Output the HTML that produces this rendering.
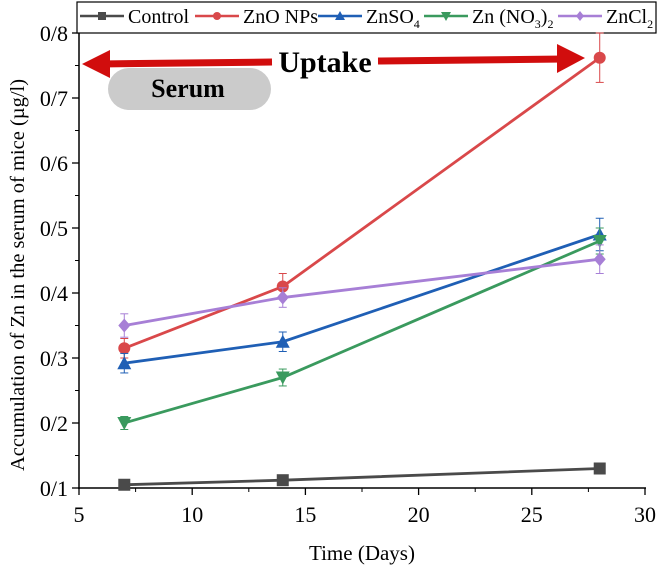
<!DOCTYPE html>
<html><head><meta charset="utf-8"><style>
body{margin:0;background:#fff;}
svg text{font-family:"Liberation Serif",serif;}
</style></head><body>
<svg id="c" width="665" height="571">
<g id="axes"></g><g id="marks"></g>
</svg>
<script>
const days=[7,14,28];
const names=["Control","ZnO NPs","ZnSO4","Zn (NO3)2","ZnCl2"];
const control=[0.105,0.112,0.13];
const zno=[0.315,0.41,0.762];
const znso4=[0.292,0.325,0.49];
const znno3=[0.2,0.27,0.48];
const zncl2=[0.35,0.393,0.452];
const errControl=[0.004,0.004,0.004];
const errZno=[0.015,0.02,0.038];
const errZnso4=[0.015,0.015,0.025];
const errZnno3=[0.01,0.013,0.02];
const errZncl2=[0.018,0.015,0.022];
const xTicks=[5,10,15,20,25,30];
const yTicks=[0.1,0.2,0.3,0.4,0.5,0.6,0.7,0.8];
const yTickLabels=["0/1","0/2","0/3","0/4","0/5","0/6","0/7","0/8"];

const NS="http://www.w3.org/2000/svg";
const X=v=>79+(v-5)*(645-79)/25;
const Y=v=>488-(v-0.1)*(488-33)/0.7;
function mk(p,t,a){const e=document.createElementNS(NS,t);for(const k in a)e.setAttribute(k,a[k]);p.appendChild(e);return e;}
const ax=document.getElementById('axes'),mg=document.getElementById('marks');
let e;
e=mk(ax,'line',{x1:79,y1:33,x2:79,y2:489,stroke:'#000','stroke-width':1.5});

e=mk(ax,'line',{x1:78,y1:488,x2:646,y2:488,stroke:'#000','stroke-width':1.5});

xTicks.forEach((t,i)=>{
 mk(ax,'line',{x1:X(t),y1:488,x2:X(t),y2:495,stroke:'#000','stroke-width':1.3});
 if(i<xTicks.length-1)mk(ax,'line',{x1:X(t+2.5),y1:488,x2:X(t+2.5),y2:492,stroke:'#000','stroke-width':1});
 e=mk(ax,'text',{x:X(t),y:522,'font-size':22,'text-anchor':'middle'});e.textContent=t;
 
});
yTicks.forEach((t,i)=>{
 mk(ax,'line',{x1:72,y1:Y(t),x2:79,y2:Y(t),stroke:'#000','stroke-width':1.3});
 if(i<yTicks.length-1)mk(ax,'line',{x1:75,y1:Y(t+0.05),x2:79,y2:Y(t+0.05),stroke:'#000','stroke-width':1});
 e=mk(ax,'text',{x:68,y:Y(t)+8,'font-size':22,'text-anchor':'end'});e.textContent=yTickLabels[i];
 
});
e=mk(ax,'text',{x:362,y:560,'font-size':21,'text-anchor':'middle'});e.textContent='Time (Days)';

e=mk(ax,'text',{x:0,y:0,'font-size':20.5,'text-anchor':'middle',transform:'translate(24,275) rotate(-90)'});e.textContent='Accumulation of Zn in the serum of mice (µg/l)';


// annotation
e=mk(ax,'rect',{x:108,y:68,width:163,height:42,rx:21,fill:'#cbcbcb'});

e=mk(ax,'text',{x:188,y:97,'font-size':26,'font-weight':'bold','text-anchor':'middle'});e.textContent='Serum';

e=mk(ax,'g',{});
mk(e,'line',{x1:100,y1:64,x2:272,y2:62,stroke:'#d10d0d','stroke-width':7});
mk(e,'line',{x1:378,y1:61,x2:565,y2:59,stroke:'#d10d0d','stroke-width':7});
mk(e,'polygon',{points:'82,64 110,50 110,78',fill:'#d10d0d'});
mk(e,'polygon',{points:'585,58 557,44 557,73',fill:'#d10d0d'});
let t2=mk(ax,'text',{x:325,y:72,'font-size':30,'font-weight':'bold','text-anchor':'middle'});t2.textContent='Uptake';


const series=[
 {d:control,err:errControl,c:'#4a4a4a',m:'sq',n:'series-control'},
 {d:zno,err:errZno,c:'#d9484a',m:'ci',n:'series-zno-nps'},
 {d:znso4,err:errZnso4,c:'#1f5fb5',m:'up',n:'series-znso4'},
 {d:znno3,err:errZnno3,c:'#3a9a5e',m:'dn',n:'series-zn-no3-2'},
 {d:zncl2,err:errZncl2,c:'#a77fd6',m:'di',n:'series-zncl2'}];
function marker(g,m,x,y,c,s){
 if(m=='sq')return mk(g,'rect',{x:x-s,y:y-s,width:2*s,height:2*s,fill:c});
 if(m=='ci')return mk(g,'circle',{cx:x,cy:y,r:s,fill:c});
 if(m=='up')return mk(g,'polygon',{points:`${x},${y-s-1} ${x-s-1},${y+s} ${x+s+1},${y+s}`,fill:c});
 if(m=='dn')return mk(g,'polygon',{points:`${x},${y+s+1} ${x-s-1},${y-s} ${x+s+1},${y-s}`,fill:c});
 return mk(g,'polygon',{points:`${x},${y-s-1} ${x+s},${y} ${x},${y+s+1} ${x-s},${y}`,fill:c});
}
series.forEach(s=>{
 const g=mk(mg,'g',{});
 mk(g,'polyline',{points:days.map((d,i)=>X(d)+','+Y(s.d[i])).join(' '),fill:'none',stroke:s.c,'stroke-width':2.8});
 days.forEach((d,i)=>{
  const x=X(d),y1=Y(s.d[i]-s.err[i]),y2=Y(s.d[i]+s.err[i]);
  mk(g,'line',{x1:x,y1:y1,x2:x,y2:y2,stroke:s.c,'stroke-width':1});
  mk(g,'line',{x1:x-4,y1:y1,x2:x+4,y2:y1,stroke:s.c,'stroke-width':1});
  mk(g,'line',{x1:x-4,y1:y2,x2:x+4,y2:y2,stroke:s.c,'stroke-width':1});
  const p=marker(g,s.m,x,Y(s.d[i]),s.c,6);
  
 });
});
// legend
const lg=mk(ax,'g',{});
mk(lg,'rect',{x:77,y:2,width:579,height:31,fill:'#fff',stroke:'#000','stroke-width':1.2});
const lx=[80,195,318,424,558];
const labels=['Control','ZnO NPs','ZnSO<tspan font-size="12" dy="5">4</tspan>','Zn (NO<tspan font-size="12" dy="5">3</tspan><tspan dy="-5">)</tspan><tspan font-size="12" dy="5">2</tspan>','ZnCl<tspan font-size="12" dy="5">2</tspan>'];
series.forEach((s,i)=>{
 const g=mk(lg,'g',{});
 mk(g,'line',{x1:lx[i],y1:16,x2:lx[i]+44,y2:16,stroke:s.c,'stroke-width':2.5});
 marker(g,s.m,lx[i]+22,16,s.c,4);
 const t=mk(g,'text',{x:lx[i]+48,y:23,'font-size':20});t.innerHTML=labels[i];
});
</script>
</body></html>
